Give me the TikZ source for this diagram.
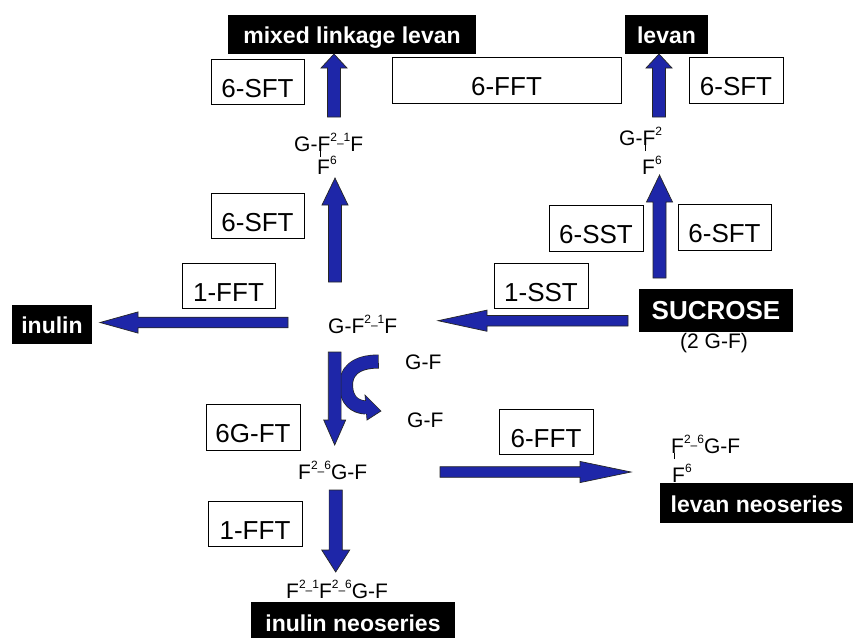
\documentclass[tikz,border=0pt]{standalone}
\usepackage{fontspec}
\setmainfont{Liberation Sans}
\usepackage{tikz}
\usetikzlibrary{calc,positioning}
\definecolor{arrowblue}{RGB}{30,38,168}
\tikzstyle{enz}  = [rectangle, draw, line width=0.8pt, inner sep=0pt,
                    minimum width=94pt, minimum height=45pt,
                    text height=31pt, text depth=0pt,
                    font=\fontsize{26}{30}\selectfont]
\tikzstyle{prod} = [rectangle, fill=black, text=white, inner sep=0pt,
                    minimum height=39pt, text height=18pt, text depth=0pt,
                    font=\fontsize{23}{27}\selectfont\bfseries]
\tikzstyle{mol}  = [inner sep=0pt, anchor=base west,
                    font=\fontsize{21}{24}\selectfont]
\tikzstyle{blockarr} = [fill=arrowblue, draw=black!85, line width=0.7pt]
\newcommand{\sml}{\fontsize{12}{12}\selectfont}
\newcommand{\molsup}[1]{\raisebox{10pt}{\sml #1}}
\newcommand{\lnk}[2]{\molsup{#1}\raisebox{4pt}{\sml\textendash}\molsup{#2}}
\newcommand{\brF}{\rlap{\hspace{2.5pt}\rule[-6pt]{0.8pt}{6pt}}F}
% head length, shaft half width, head half width, from, to
\newcommand{\barrow}[5]{
  \coordinate (hb) at ($(#5)!#1!(#4)$);
  \filldraw[blockarr] ($(#4)!#2!90:(#5)$) -- ($(hb)!#2!90:(#5)$)
    -- ($(hb)!#3!90:(#5)$) -- (#5) -- ($(hb)!#3!-90:(#5)$)
    -- ($(hb)!#2!-90:(#5)$) -- ($(#4)!#2!-90:(#5)$) -- cycle;
}

\begin{document}
\begin{tikzpicture}[x=1pt, y=-1pt]
	\useasboundingbox (0,0) rectangle (853,637);

	% products
	\node[prod, minimum width=248pt] (mll) at (352,34.5) {mixed linkage levan};
	\node[prod, minimum width=83pt] (lev) at (666.5,34.5) {levan};
	\node[prod, minimum width=80pt] (inu) at (52,324.5) {inulin};
	\node[prod, minimum width=154pt, minimum height=43pt,
		font=\fontsize{26}{30}\selectfont\bfseries] (suc) at (716,310.5) {SUCROSE};
	\node[mol, anchor=base] (twogf) at (714,348) {(2 G-F)};
	\node[prod, minimum width=204pt, minimum height=40pt] (inuneo) at (353,622) {inulin neoseries};
	\node[prod, minimum width=194pt, minimum height=40pt] (levneo) at (757,503) {levan neoseries};

	% enzymes
	\node[enz, minimum width=93pt] (sftA) at (257.5,81.5) {6-SFT};
	\node[enz, minimum width=229pt, minimum height=46pt] (fftA) at (506.5,80) {6-FFT};
	\node[enz, minimum height=46pt] (sftB) at (736,80) {6-SFT};
	\node[enz, minimum width=93pt] (sftC) at (257.5,215.5) {6-SFT};
	\node[enz, minimum width=93pt] (fftB) at (228.5,285.5) {1-FFT};
	\node[enz, minimum height=46pt] (sst6) at (596,228) {6-SST};
	\node[enz, minimum width=93pt, minimum height=46pt] (sftD) at (724.5,227) {6-SFT};
	\node[enz] (sst1) at (541,285.5) {1-SST};
	\node[enz, minimum height=46pt] (gft) at (253,427) {6G-FT};
	\node[enz] (fftC) at (255,523.5) {1-FFT};
	\node[enz] (fftD) at (546,431.5) {6-FFT};

	% sugars
	\node[mol] (mixtri) at (294,151) {G-\brF\lnk{2}{1}F};
	\node[mol] (mixtrib) at (317,174) {F\molsup{6}};
	\node[mol] (levtri) at (619,145) {G-\brF\molsup{2}};
	\node[mol] (levtrib) at (642,174) {F\molsup{6}};
	\node[mol] (kest) at (328,333) {G-F\lnk{2}{1}F};
	\node[mol] (gfin) at (405,369) {G-F};
	\node[mol] (gfout) at (407,427) {G-F};
	\node[mol] (neok) at (298,479) {F\lnk{2}{6}G-F};
	\node[mol] (inutet) at (286,598) {F\lnk{2}{1}F\lnk{2}{6}G-F};
	\node[mol] (levtet) at (671,453) {\brF\lnk{2}{6}G-F};
	\node[mol] (levtetb) at (672,482.7) {F\molsup{6}};

	% arrow ends
	\coordinate (a1t) at (334,117);   \coordinate (a1h) at (334,54);
	\coordinate (a2t) at (659,117);   \coordinate (a2h) at (659,54);
	\coordinate (a3t) at (335,282);   \coordinate (a3h) at (335,178);
	\coordinate (a4t) at (659.5,278); \coordinate (a4h) at (659.5,175);
	\coordinate (a5t) at (288,322.5); \coordinate (a5h) at (100,322.5);
	\coordinate (a6t) at (628,320.7); \coordinate (a6h) at (438,320.7);
	\coordinate (a7t) at (334.7,352); \coordinate (a7h) at (334.7,445);
	\coordinate (a8t) at (335.7,490); \coordinate (a8h) at (335.7,572);
	\coordinate (a9t) at (440,472);   \coordinate (a9h) at (631,472);
	\coordinate (cs) at (378,361.5);  \coordinate (ce) at (366,407.5);

	% sucrose is taken up and given back
	\draw[line width=14pt, draw=black!85] (378.7,361.5) .. controls (355,361.5) and (345,372) .. (346,387)
		.. controls (347,400) and (354,407) .. (ce);
	\filldraw[blockarr] (365,395) -- (381,411) -- (367,420) -- cycle;
	\draw[line width=12.6pt, draw=arrowblue] (cs) .. controls (355,361.5) and (345,372) .. (346,387)
		.. controls (347,400) and (354,407.5) .. (369,407.7);

	\barrow{14pt}{6.5pt}{13pt}{a1t}{a1h}
	\barrow{14pt}{6.5pt}{13pt}{a2t}{a2h}
	\barrow{27pt}{6.5pt}{13pt}{a3t}{a3h}
	\barrow{27pt}{6.5pt}{13pt}{a4t}{a4h}
	\barrow{38pt}{5.3pt}{10.6pt}{a5t}{a5h}
	\barrow{49pt}{5.3pt}{10.6pt}{a6t}{a6h}
	\barrow{25pt}{6.4pt}{11pt}{a7t}{a7h}
	\barrow{22pt}{6.6pt}{14pt}{a8t}{a8h}
	\barrow{51pt}{5.3pt}{10.6pt}{a9t}{a9h}
\end{tikzpicture}
\end{document}
